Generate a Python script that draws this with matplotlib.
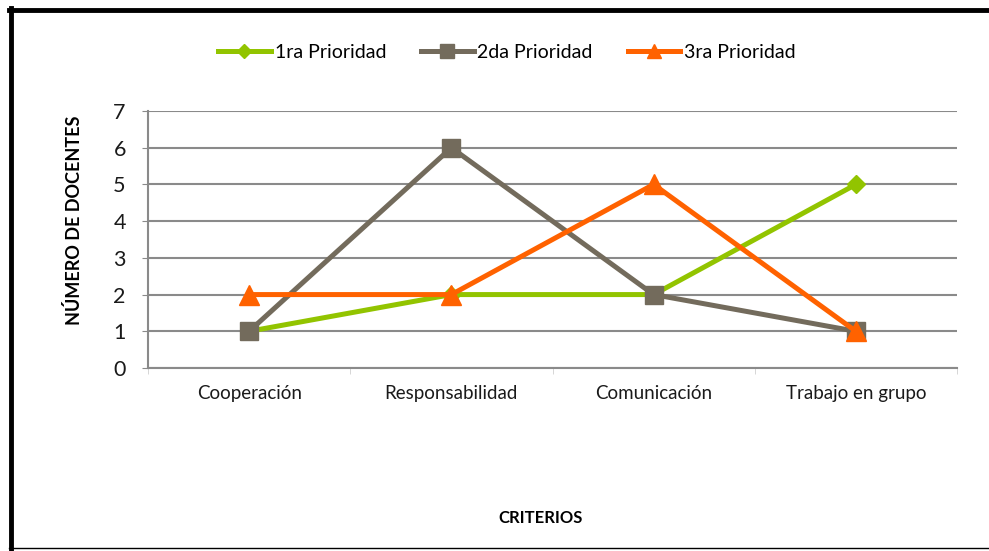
import matplotlib
matplotlib.use("Agg")
import matplotlib.pyplot as plt
from matplotlib.lines import Line2D

categories = ["Cooperación", "Responsabilidad", "Comunicación", "Trabajo en grupo"]
serie1 = [1, 2, 2, 5]
serie2 = [1, 6, 2, 1]
serie3 = [2, 2, 5, 1]
names = ["1ra Prioridad", "2da Prioridad", "3ra Prioridad"]
yticks = [0, 1, 2, 3, 4, 5, 6, 7]

plt.rcParams['font.family'] = ['Lato', 'DejaVu Sans']

W, H = 989, 551
fig = plt.figure(figsize=(W/100, H/100), dpi=100)
ax = fig.add_axes([148/W, 1-368/H, (957-148)/W, (368-111)/H])

c1, c2, c3 = "#92C400", "#736B5C", "#FF6200"
x = list(range(len(categories)))
ax.plot(x, serie1, color=c1, lw=3.6, marker="D", ms=9, zorder=3, label=names[0])
ax.plot(x, serie2, color=c2, lw=3.6, marker="s", ms=13, zorder=4, label=names[1])
ax.plot(x, serie3, color=c3, lw=3.6, marker="^", ms=14, zorder=5, label=names[2])

ax.set_xlim(-0.5, 3.5)
ax.set_ylim(0, 7)
ax.set_yticks(yticks)
ax.set_xticks(x)
ax.set_xticklabels(categories, fontsize=13.5, color="#1a1a1a")
ax.set_yticklabels([str(v) for v in yticks], fontsize=15.5, color="#1a1a1a")
ax.yaxis.grid(True, color="#8a8a8a", lw=1.5)
ax.set_axisbelow(True)
for s in ["top", "right"]:
    ax.spines[s].set_visible(False)
ax.spines["left"].set_color("#8a8a8a")
ax.spines["bottom"].set_color("#8a8a8a")
ax.spines["left"].set_linewidth(1.5)
ax.spines["bottom"].set_linewidth(1.5)
ax.tick_params(axis="x", length=0, pad=12)
ax.tick_params(axis="y", length=4, color="#8a8a8a", pad=12)
ax.set_xticks([-0.5, 0.5, 1.5, 2.5, 3.5], minor=True)
ax.tick_params(axis="x", which="minor", length=4, color="#d0d0d0")

fig.text(541/W, 1-518/H, "CRITERIOS", fontsize=12, fontweight="bold", ha="center", va="center")
fig.text(74/W, 1-220/H, "NÚMERO DE DOCENTES", fontsize=13, fontweight="bold", ha="center", va="center", rotation=90)

handles = [Line2D([0], [0], color=c1, lw=3.6, marker="D", ms=7),
           Line2D([0], [0], color=c2, lw=3.6, marker="s", ms=10),
           Line2D([0], [0], color=c3, lw=3.6, marker="^", ms=10)]
fig.legend(handles, names, loc="center", bbox_to_anchor=(507/W, 1-52/H), ncol=3,
           frameon=False, fontsize=14, handlelength=2.7, columnspacing=1.8, handletextpad=0.2)

# frame
fig.add_artist(Line2D([11/W, 11/W], [0, 1-8/H], color="black", lw=3.5, transform=fig.transFigure))
fig.add_artist(Line2D([9/W, 1], [1-10/H, 1-10/H], color="black", lw=3.5, transform=fig.transFigure))
fig.add_artist(Line2D([9/W, 1], [1-548/H, 1-548/H], color="black", lw=1, transform=fig.transFigure))

fig.savefig("out.png", dpi=100)
